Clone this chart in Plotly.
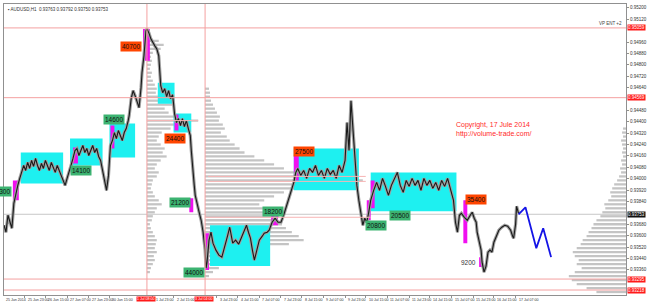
import plotly.graph_objects as go

# ---- price path (bar position, close) ----
bar_x = [3,5,7,9,11,13,15,17,19,21,23,25,27,29,31,33,35,37,39,41,43,45,47,49,51,53,55,57,59,61,
         63,65,67,69,71,73,75,77,79,81,83,85,87,89,91,93,95,97,99,101,103,105,107,109,
         111,113,115,117,119,121,123,125,127,129,130,132,134,136,138,140,142,143,145,146,147,148,
         150,152,154,156,158,160,161,162,164,166,168,170,172,174,175,176,178,180,182,184,186,188,190,
         192,193,194,195,196,197,199,201,203,205,207,208,209,211,213,215,218,221,224,227,230,232,
         235,238,241,244,247,249,251,253,255,257,260,262,265,267,270,272,275,278,281,284,287,290,
         292,295,297,299,301,304,307,310,313,316,319,322,325,328,331,334,337,340,343,346,349,351,
         353,355,357,359,361,363,365,367,369,371,373,375,378,381,384,387,390,393,396,399,402,405,
         408,411,414,417,420,423,426,429,432,435,438,441,444,447,450,453,456,459,461,463,465,467,
         470,473,476,478,480,482,483,485,487,488,490,492,494,496,498,500,502,505,508,511,514,517,
         519,520,522,523,525]
close = [0.93673,0.93624,0.93743,0.93694,0.93652,0.93827,0.93904,0.93953,0.94002,0.94044,0.94093,
         0.94058,0.94114,0.94072,0.94128,0.94086,0.94142,0.94093,0.94058,0.94107,0.94072,0.94128,
         0.94093,0.94058,0.94114,0.94079,0.94044,0.94093,0.94058,0.94023,
         0.93988,0.93953,0.94002,0.94058,0.94093,0.94142,0.94198,0.94212,0.94163,0.94198,0.94233,
         0.94184,0.94212,0.94163,0.94198,0.94233,0.94184,0.94212,0.94156,0.94128,0.94058,0.93988,
         0.93918,0.94023,
         0.94233,0.94268,0.94324,0.94282,0.94338,0.94303,0.94268,0.94324,0.94352,0.94408,0.94443,
         0.94562,0.94618,0.94583,0.94548,0.94499,0.94639,0.94744,0.94863,0.94968,0.95038,0.95052,
         0.95024,0.94982,0.94954,0.94933,0.94912,0.94863,0.94758,0.94653,0.94604,0.94632,0.94576,
         0.94618,0.94562,0.94590,0.94527,0.94457,0.94394,0.94422,0.94373,0.94422,0.94366,0.94408,
         0.94352,
         0.94303,0.94198,0.94093,0.94023,0.93953,0.93883,0.93813,0.93764,0.93708,0.93624,0.93498,
         0.93372,0.93414,0.93568,0.93624,0.93547,0.93498,0.93463,0.93449,0.93519,0.93603,0.93659,
         0.93547,0.93568,0.93540,0.93589,0.93638,0.93673,0.93624,0.93582,0.93498,0.93428,0.93512,
         0.93568,0.93596,0.93617,0.93624,0.93638,0.93694,0.93722,0.93694,0.93694,0.93750,0.93813,
         0.93862,0.93918,0.93974,0.94044,0.94072,0.94023,0.94058,0.94002,0.94072,0.94044,0.94093,
         0.94023,0.94058,0.94002,0.94072,0.94030,0.94058,0.94002,0.94093,0.94044,0.94128,0.94394,
         0.94198,0.94548,0.94338,0.94093,0.93953,0.93848,0.93743,0.93673,0.93722,0.93694,0.93764,
         0.93848,0.93918,0.93974,0.93918,0.94002,0.93946,0.93883,0.93953,0.94002,0.94044,0.93953,
         0.93904,0.93988,0.93946,0.94002,0.93953,0.93988,0.93918,0.94002,0.93953,0.93988,0.93932,
         0.93974,0.93918,0.93988,0.93946,0.94002,0.93918,0.93848,0.93694,0.93624,0.93743,0.93757,
         0.93729,0.93708,0.93743,0.93764,0.93722,0.93694,0.93624,0.93568,0.93498,0.93414,0.93344,
         0.93386,0.93484,0.93498,0.93484,0.93554,0.93589,0.93638,0.93659,0.93673,0.93666,0.93638,
         0.93596,0.93582,0.93680,0.93806,0.93757]

# ---- forecast zigzag ----
fc_x = [525, 532, 543, 550, 558]
fc_p = [0.93750, 0.93799, 0.93512, 0.93652, 0.93449]

# ---- cyan zones ----
zone_x0 = [20, 70, 110, 159, 175, 212, 297, 375]
zone_x1 = [63, 103, 136, 176, 193, 273, 363, 462]
zone_hi = [0.94184, 0.94282, 0.94387, 0.94674, 0.94457, 0.93673, 0.94212, 0.94044]
zone_lo = [0.93967, 0.94093, 0.94149, 0.94527, 0.94324, 0.93386, 0.93918, 0.93771]

# ---- magenta volume bars ----
mag_x0 = [12, 73, 111, 144, 176, 191, 207, 274, 297, 371, 375, 469, 485]
mag_x1 = [18, 78, 115, 151, 180, 195, 211, 281, 302, 375, 379, 473, 488]
mag_hi = [0.93988, 0.94219, 0.94373, 0.95052, 0.94450, 0.93862, 0.93617, 0.93743, 0.94163,
          0.93848, 0.93988, 0.93848, 0.93449]
mag_lo = [0.93848, 0.94107, 0.94212, 0.94828, 0.94338, 0.93764, 0.93358, 0.93673, 0.93988,
          0.93708, 0.93792, 0.93547, 0.93379]

# ---- volume labels ----
lab_text = ["14300", "14100", "14600", "40700", "24400", "21200", "44000", "18200",
            "27500", "20800", "20500", "35400", "9200"]
lab_x = [11, 81, 115, 132, 176, 182, 196, 276, 307, 380, 405, 482, 474]
lab_p = [0.93911, 0.94058, 0.94415, 0.94926, 0.94282, 0.93834, 0.93344, 0.93771,
         0.94191, 0.93673, 0.93743, 0.93855, 0.93414]
lab_kind = ["g", "g", "g", "r", "r", "g", "g", "g", "r", "g", "g", "r", "n"]

# ---- volume profiles (bin widths) ----
prof_left_top = 0.94968
prof_left = [12,17,14,6,4,5,4,3,5,4,6,8,10,9,12,20,26,18,22,40,52,30,24,15,12,10,14,18,16,20,
             14,10,8,12,10,6,5,4,6,8,12,15,10,8,6,5,3,4,6,8,10,9,8,10,7,8,6,4,3]
prof_mid_top = 0.94632
prof_mid = [4,5,5,6,8,10,12,15,14,18,20,16,22,25,30,35,40,50,60,70,80,110,150,160,120,95,80,70,
            60,55,62,70,75,70,78,82,88,95,100,85,60,45,30,25,20,14,8,4]
prof_right_top = 0.94352
prof_right = [3,4,3,5,4,3,4,3,5,4,6,5,7,9,12,14,16,15,18,22,21,24,26,30,33,35,38,40,44,46,
              50,54,52,48,50,45,52,58,55,50,40,30]
bin_step = 0.00028

# ---- levels / lines ----
red_levels = [0.95059, 0.94569, 0.93295, 0.93218]
red_times = [148, 207]
last_price = 0.93750

x_ticks = [2, 24, 45, 67, 89, 110, 154, 175, 219, 240, 262, 284, 305, 327, 349, 370,
           392, 414, 435, 457, 479, 500, 522]
x_labels = ["25 Jun 2014", "25 Jun 23:00", "26 Jun 15:00", "27 Jun 07:00", "27 Jun 23:00",
            "30 Jun 15:00", "1 Jul 23:00", "2 Jul 15:00",
            "3 Jul 23:00", "4 Jul 15:00", "7 Jul 07:00", "7 Jul 23:00", "8 Jul 15:00",
            "9 Jul 07:00", "9 Jul 23:00", "10 Jul 15:00", "11 Jul 07:00", "11 Jul 23:00",
            "14 Jul 15:00", "15 Jul 07:00", "15 Jul 23:00", "16 Jul 15:00", "17 Jul 07:00"]
red_time_labels = ["1 Jul 08:00", "3 Jul 04:00"]

X0, X1 = 3, 634
Y0, Y1 = 0.93183, 0.95227
FONT = "Liberation Sans, Arial, sans-serif"
NARROW = "Liberation Sans Narrow, Liberation Sans, sans-serif"

fig = go.Figure()

def levels(top, n):
    return [top - i * bin_step for i in range(n)]

for top, vals, base, sign in [(prof_left_top, prof_left, red_times[0], 1),
                              (prof_mid_top, prof_mid, red_times[1], 1),
                              (prof_right_top, prof_right, X1, -1)]:
    fig.add_trace(go.Bar(orientation="h", y=levels(top, len(vals)), x=[sign * v for v in vals],
                         base=base, width=0.00016, marker=dict(color="#c4c4c4", line_width=0)))

def rect_trace(x0s, x1s, los, his, color):
    xs, ys = [], []
    for a, b, lo, hi in zip(x0s, x1s, los, his):
        xs += [a, b, b, a, a, None]
        ys += [lo, lo, hi, hi, lo, None]
    return go.Scatter(x=xs, y=ys, mode="lines", fill="toself", fillcolor=color,
                      line=dict(width=0, color=color), hoverinfo="skip")

fig.add_trace(rect_trace(zone_x0, zone_x1, zone_lo, zone_hi, "#1ef0f0"))
fig.add_trace(rect_trace(mag_x0, mag_x1, mag_lo, mag_hi, "#f010f0"))

shapes = []
for lv in red_levels:
    shapes.append(dict(type="line", x0=X0, x1=X1, y0=lv, y1=lv, xref="x", yref="y",
                       line=dict(color="#f4a0a0", width=1)))
for t in red_times:
    shapes.append(dict(type="line", x0=t, x1=t, y0=Y0, y1=Y1, xref="x", yref="y",
                       line=dict(color="#f4a0a0", width=1)))
for (a, b, lv) in [(148, 200, 0.94408), (210, 370, 0.94016), (210, 370, 0.93981), (207, 375, 0.93729)]:
    shapes.append(dict(type="line", x0=a, x1=b, y0=lv, y1=lv, xref="x", yref="y",
                       line=dict(color="#f7b4b4", width=1)))
shapes.append(dict(type="line", x0=X0, x1=X1, y0=last_price, y1=last_price, xref="x", yref="y",
                   line=dict(color="#c8c8c8", width=1), layer="below"))

fig.add_trace(go.Scatter(x=bar_x, y=close, mode="lines", line=dict(color="#a0a0a0", width=3.2)))
fig.add_trace(go.Scatter(x=bar_x, y=close, mode="lines", line=dict(color="#1a1a1a", width=1.1)))
fig.add_trace(go.Scatter(x=fc_x, y=fc_p, mode="lines", line=dict(color="#1414e6", width=1.8)))

ann = []
colors = {"g": "#3cb371", "r": "#ff4500"}
for t, x, p, k in zip(lab_text, lab_x, lab_p, lab_kind):
    if k == "n":
        ann.append(dict(x=x, y=p, text=t, showarrow=False, font=dict(size=6.5, color="#333", family=FONT)))
    else:
        ann.append(dict(x=x, y=p, text=t, showarrow=False, xanchor="right" if t == "14300" else "center",
                        bgcolor=colors[k], borderpad=1,
                        font=dict(size=6.5, color="#111", family=FONT)))
ann.append(dict(x=459, y=0.94380, text="Copyright, 17 Jule 2014", showarrow=False, xanchor="left",
                font=dict(size=7, color="#ff2a2a", family=FONT)))
ann.append(dict(x=459, y=0.94317, text="http://volume-trade.com/", showarrow=False, xanchor="left",
                font=dict(size=7, color="#ff2a2a", family=FONT)))
ann.append(dict(x=0.004, y=0.995, xref="paper", yref="paper", xanchor="left", yanchor="top",
                text="▪ AUDUSD,H1  0.93763 0.93792 0.93750 0.93753", showarrow=False,
                font=dict(size=4.5, color="#333", family=FONT)))
ann.append(dict(x=632, y=0.95087, text="VP ENT +2", showarrow=False, xanchor="right",
                font=dict(size=4.5, color="#444", family=FONT)))
for lv in red_levels:
    ann.append(dict(x=1, y=lv, xref="paper", yref="y", xanchor="left", xshift=1, showarrow=False,
                    text=f"{lv:.5f}", bgcolor="#ff1a1a", borderpad=0,
                    font=dict(size=4.5, color="white", family=FONT)))
ann.append(dict(x=1, y=last_price, xref="paper", yref="y", xanchor="left", xshift=1, showarrow=False,
                text="0.93753", bgcolor="#111", borderpad=0, font=dict(size=4.5, color="white", family=FONT)))
for tx, tl in zip(x_ticks, x_labels):
    ann.append(dict(x=tx + 1, y=0, xref="x", yref="paper", xanchor="left", yanchor="top", yshift=-1,
                    showarrow=False, text=tl, font=dict(size=3.6, color="#333", family=NARROW)))
for t, tl in zip(red_times, red_time_labels):
    ann.append(dict(x=t - 11, y=0, xref="x", yref="paper", xanchor="left", yanchor="top", yshift=-1,
                    showarrow=False, text=tl, bgcolor="#ff1a1a", borderpad=0,
                    font=dict(size=3.6, color="white", family=NARROW)))

marked = red_levels + [last_price]
y_ticks = [round(0.9320 + 0.0008 * i, 5) for i in range(26)]
y_ticks = [v for v in y_ticks if all(abs(v - m) > 0.0004 for m in marked) and v < Y1]

fig.update_layout(
    width=650, height=306, margin=dict(l=3, r=16, t=3, b=11),
    paper_bgcolor="white", plot_bgcolor="white", showlegend=False, barmode="overlay",
    shapes=shapes, annotations=ann,
    xaxis=dict(range=[X0, X1], showgrid=False, zeroline=False, showline=True, mirror=True,
               linecolor="#909090", linewidth=1, tickvals=x_ticks, ticks="outside", ticklen=2,
               tickcolor="#909090", showticklabels=False),
    yaxis=dict(range=[Y0, Y1], side="right", showgrid=False, zeroline=False, showline=True,
               mirror=True, linecolor="#909090", linewidth=1, tickvals=y_ticks,
               tickformat=".5f", ticks="outside", ticklen=2, tickcolor="#909090",
               tickfont=dict(size=4.5, color="#333", family=FONT)),
)
fig.write_html("out.html")
